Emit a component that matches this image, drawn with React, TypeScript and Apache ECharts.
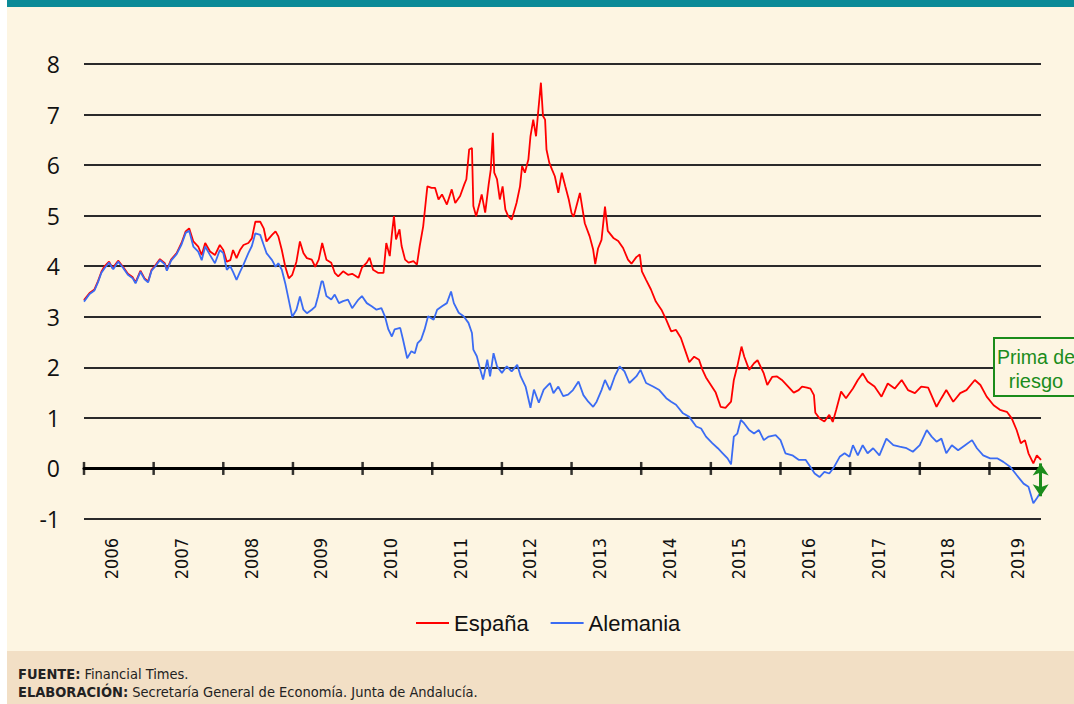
import React, { useEffect, useRef } from "react";
import * as echarts from "echarts";

// Rentabilidad del bono a 10 años (%), [año decimal, valor]
const espana: [number, number][] = [
  [2006.0, 3.33], [2006.08, 3.47], [2006.15, 3.54], [2006.2, 3.7], [2006.25, 3.89], [2006.29, 3.99],
  [2006.36, 4.09], [2006.41, 3.96], [2006.49, 4.11], [2006.56, 3.99], [2006.63, 3.85], [2006.7, 3.78],
  [2006.74, 3.68], [2006.81, 3.91], [2006.87, 3.76], [2006.92, 3.7], [2006.97, 3.93], [2007.02, 4.01],
  [2007.09, 4.14], [2007.16, 4.06], [2007.19, 3.93], [2007.25, 4.13], [2007.33, 4.26], [2007.4, 4.46],
  [2007.46, 4.69], [2007.51, 4.75], [2007.57, 4.49], [2007.64, 4.39], [2007.69, 4.22], [2007.74, 4.46],
  [2007.81, 4.29], [2007.88, 4.22], [2007.95, 4.42], [2008.0, 4.32], [2008.05, 4.09], [2008.1, 4.12],
  [2008.14, 4.32], [2008.19, 4.16], [2008.24, 4.32], [2008.29, 4.42], [2008.36, 4.46], [2008.41, 4.55],
  [2008.46, 4.88], [2008.53, 4.88], [2008.58, 4.75], [2008.62, 4.49], [2008.7, 4.62], [2008.75, 4.69],
  [2008.79, 4.59], [2008.84, 4.32], [2008.89, 3.99], [2008.94, 3.76], [2008.99, 3.83], [2009.05, 4.09],
  [2009.1, 4.49], [2009.15, 4.26], [2009.2, 4.16], [2009.27, 4.13], [2009.32, 3.99], [2009.37, 4.13],
  [2009.42, 4.46], [2009.48, 4.13], [2009.55, 4.07], [2009.6, 3.87], [2009.65, 3.8], [2009.72, 3.9],
  [2009.79, 3.83], [2009.85, 3.85], [2009.94, 3.77], [2009.99, 3.97], [2010.06, 4.07], [2010.1, 4.17],
  [2010.15, 3.93], [2010.22, 3.87], [2010.3, 3.87], [2010.34, 4.46], [2010.39, 4.2], [2010.42, 4.63],
  [2010.45, 4.99], [2010.48, 4.53], [2010.53, 4.73], [2010.56, 4.4], [2010.61, 4.13], [2010.66, 4.07],
  [2010.73, 4.1], [2010.78, 4.03], [2010.82, 4.4], [2010.87, 4.79], [2010.91, 5.32], [2010.93, 5.58],
  [2010.99, 5.55], [2011.04, 5.55], [2011.09, 5.32], [2011.14, 5.42], [2011.21, 5.22], [2011.28, 5.52],
  [2011.33, 5.25], [2011.4, 5.39], [2011.46, 5.62], [2011.49, 5.72], [2011.53, 6.31], [2011.57, 6.34],
  [2011.59, 5.19], [2011.63, 4.99], [2011.68, 5.25], [2011.71, 5.42], [2011.76, 5.06], [2011.81, 5.62],
  [2011.84, 5.91], [2011.87, 6.64], [2011.89, 5.85], [2011.93, 5.72], [2011.97, 5.32], [2012.01, 5.58],
  [2012.05, 5.12], [2012.09, 4.99], [2012.14, 4.92], [2012.17, 5.06], [2012.21, 5.25], [2012.26, 5.58],
  [2012.29, 5.98], [2012.33, 5.85], [2012.38, 6.11], [2012.41, 6.57], [2012.45, 6.9], [2012.49, 6.57],
  [2012.52, 7.04], [2012.56, 7.63], [2012.59, 6.97], [2012.62, 6.9], [2012.64, 6.31], [2012.68, 6.05],
  [2012.72, 5.91], [2012.76, 5.78], [2012.81, 5.45], [2012.86, 5.85], [2012.91, 5.58], [2012.96, 5.32],
  [2013.0, 5.05], [2013.03, 4.98], [2013.12, 5.45], [2013.19, 4.85], [2013.26, 4.59], [2013.31, 4.33],
  [2013.34, 4.04], [2013.38, 4.35], [2013.43, 4.52], [2013.48, 5.18], [2013.52, 4.7], [2013.6, 4.56],
  [2013.67, 4.5], [2013.74, 4.36], [2013.81, 4.13], [2013.86, 4.05], [2013.93, 4.18], [2013.98, 4.23],
  [2014.01, 3.9], [2014.07, 3.73], [2014.14, 3.54], [2014.21, 3.3], [2014.29, 3.14], [2014.36, 2.94],
  [2014.43, 2.71], [2014.5, 2.74], [2014.57, 2.58], [2014.64, 2.3], [2014.69, 2.1], [2014.76, 2.21],
  [2014.83, 2.15], [2014.88, 1.95], [2014.93, 1.8], [2015.0, 1.65], [2015.07, 1.5], [2015.14, 1.22],
  [2015.21, 1.2], [2015.29, 1.32], [2015.33, 1.75], [2015.38, 2.02], [2015.44, 2.41], [2015.48, 2.21],
  [2015.55, 1.95], [2015.62, 2.08], [2015.67, 2.14], [2015.76, 1.88], [2015.81, 1.65], [2015.88, 1.81],
  [2015.95, 1.82], [2016.02, 1.75], [2016.09, 1.65], [2016.19, 1.5], [2016.26, 1.55], [2016.31, 1.62],
  [2016.38, 1.6], [2016.43, 1.58], [2016.48, 1.45], [2016.5, 1.1], [2016.56, 0.99], [2016.63, 0.93],
  [2016.7, 1.06], [2016.75, 0.92], [2016.8, 1.16], [2016.87, 1.52], [2016.94, 1.39], [2017.04, 1.58],
  [2017.11, 1.75], [2017.18, 1.88], [2017.25, 1.72], [2017.35, 1.62], [2017.45, 1.42], [2017.54, 1.68],
  [2017.64, 1.58], [2017.74, 1.75], [2017.83, 1.55], [2017.93, 1.49], [2018.02, 1.62], [2018.12, 1.6],
  [2018.24, 1.22], [2018.31, 1.39], [2018.38, 1.55], [2018.48, 1.32], [2018.58, 1.49], [2018.67, 1.55],
  [2018.79, 1.75], [2018.87, 1.65], [2018.96, 1.42], [2019.06, 1.25], [2019.15, 1.16], [2019.25, 1.12],
  [2019.32, 0.99], [2019.39, 0.76], [2019.45, 0.5], [2019.51, 0.56], [2019.56, 0.3], [2019.63, 0.1],
  [2019.68, 0.26], [2019.74, 0.17],
];

const alemania: [number, number][] = [
  [2006.0, 3.3], [2006.08, 3.45], [2006.15, 3.52], [2006.2, 3.68], [2006.25, 3.87], [2006.3, 3.97],
  [2006.36, 4.07], [2006.42, 3.94], [2006.49, 4.09], [2006.56, 3.97], [2006.63, 3.83], [2006.7, 3.76],
  [2006.74, 3.66], [2006.81, 3.89], [2006.87, 3.74], [2006.92, 3.68], [2006.97, 3.91], [2007.02, 3.99],
  [2007.09, 4.12], [2007.16, 4.04], [2007.19, 3.91], [2007.25, 4.11], [2007.33, 4.24], [2007.4, 4.43],
  [2007.46, 4.66], [2007.51, 4.7], [2007.57, 4.39], [2007.64, 4.29], [2007.69, 4.12], [2007.74, 4.39],
  [2007.81, 4.22], [2007.88, 4.06], [2007.95, 4.32], [2008.0, 4.26], [2008.05, 3.93], [2008.1, 4.0],
  [2008.14, 3.89], [2008.19, 3.73], [2008.24, 3.89], [2008.29, 4.03], [2008.36, 4.26], [2008.41, 4.4],
  [2008.46, 4.65], [2008.53, 4.62], [2008.58, 4.42], [2008.62, 4.26], [2008.7, 4.12], [2008.75, 3.99],
  [2008.79, 4.06], [2008.84, 3.93], [2008.89, 3.66], [2008.94, 3.33], [2008.99, 3.0], [2009.05, 3.14],
  [2009.1, 3.4], [2009.15, 3.14], [2009.2, 3.07], [2009.27, 3.14], [2009.32, 3.2], [2009.36, 3.4],
  [2009.41, 3.7], [2009.43, 3.7], [2009.48, 3.41], [2009.55, 3.34], [2009.6, 3.44], [2009.66, 3.27],
  [2009.72, 3.31], [2009.79, 3.34], [2009.85, 3.17], [2009.94, 3.34], [2009.99, 3.41], [2010.06, 3.27],
  [2010.13, 3.21], [2010.2, 3.14], [2010.27, 3.17], [2010.32, 3.01], [2010.37, 2.75], [2010.42, 2.61],
  [2010.46, 2.75], [2010.54, 2.78], [2010.58, 2.55], [2010.64, 2.18], [2010.7, 2.32], [2010.75, 2.28],
  [2010.79, 2.48], [2010.84, 2.55], [2010.89, 2.75], [2010.94, 3.01], [2011.02, 2.94], [2011.07, 3.14],
  [2011.14, 3.21], [2011.21, 3.27], [2011.27, 3.5], [2011.31, 3.27], [2011.38, 3.08], [2011.45, 3.01],
  [2011.52, 2.88], [2011.57, 2.68], [2011.59, 2.35], [2011.64, 2.22], [2011.69, 1.95], [2011.73, 1.76],
  [2011.79, 2.15], [2011.83, 1.82], [2011.88, 2.28], [2011.93, 2.02], [2012.0, 1.89], [2012.07, 2.02],
  [2012.14, 1.92], [2012.22, 2.05], [2012.27, 1.82], [2012.34, 1.62], [2012.41, 1.2], [2012.46, 1.56],
  [2012.53, 1.3], [2012.6, 1.56], [2012.69, 1.69], [2012.74, 1.49], [2012.81, 1.62], [2012.88, 1.43],
  [2012.95, 1.46], [2013.02, 1.55], [2013.1, 1.72], [2013.17, 1.45], [2013.24, 1.32], [2013.31, 1.22],
  [2013.36, 1.32], [2013.43, 1.55], [2013.48, 1.75], [2013.55, 1.55], [2013.62, 1.82], [2013.69, 2.02],
  [2013.76, 1.92], [2013.83, 1.69], [2013.93, 1.82], [2013.99, 1.95], [2014.07, 1.69], [2014.17, 1.62],
  [2014.26, 1.55], [2014.36, 1.39], [2014.43, 1.32], [2014.5, 1.26], [2014.6, 1.09], [2014.69, 1.02],
  [2014.79, 0.83], [2014.86, 0.79], [2014.93, 0.63], [2015.02, 0.5], [2015.1, 0.4], [2015.17, 0.3],
  [2015.24, 0.2], [2015.29, 0.08], [2015.33, 0.63], [2015.38, 0.69], [2015.43, 0.96], [2015.48, 0.89],
  [2015.55, 0.76], [2015.62, 0.69], [2015.69, 0.76], [2015.76, 0.56], [2015.83, 0.63], [2015.93, 0.66],
  [2016.0, 0.56], [2016.07, 0.3], [2016.17, 0.26], [2016.26, 0.17], [2016.36, 0.17], [2016.43, 0.03],
  [2016.49, -0.1], [2016.56, -0.17], [2016.63, -0.07], [2016.7, -0.1], [2016.77, 0.03], [2016.85, 0.23],
  [2016.92, 0.3], [2016.99, 0.23], [2017.04, 0.46], [2017.11, 0.26], [2017.18, 0.46], [2017.25, 0.3],
  [2017.33, 0.4], [2017.42, 0.26], [2017.52, 0.59], [2017.62, 0.46], [2017.71, 0.43], [2017.81, 0.4],
  [2017.9, 0.33], [2018.0, 0.46], [2018.1, 0.76], [2018.17, 0.63], [2018.24, 0.53], [2018.31, 0.59],
  [2018.38, 0.3], [2018.46, 0.46], [2018.55, 0.36], [2018.65, 0.46], [2018.75, 0.56], [2018.82, 0.4],
  [2018.91, 0.26], [2019.01, 0.2], [2019.11, 0.2], [2019.2, 0.13], [2019.3, 0.03], [2019.39, -0.13],
  [2019.49, -0.3], [2019.56, -0.36], [2019.63, -0.69], [2019.68, -0.59], [2019.74, -0.46],
];

const years = [2006, 2007, 2008, 2009, 2010, 2011, 2012, 2013, 2014, 2015, 2016, 2017, 2018, 2019];
const xStart = 2006;
const xEnd = 2019.74;
const yMin = -1;
const yMax = 8;
// Prima de riesgo al final del periodo (España vs Alemania)
const primaTop = 0.1;
const primaBottom = -0.55;

const CREAM = "#fdf5e2";
const TEAL = "#0b8a97";
const FOOT = "#f2dfc5";
const GREEN = "#1b8c1b";
const NARROW = '"Liberation Sans Narrow", "DejaVu Sans Condensed", "Liberation Sans", sans-serif';

export default function App() {
  const ref = useRef<HTMLDivElement>(null);
  useEffect(() => {
    if (!ref.current) return;
    const chart = echarts.init(ref.current, null, { renderer: "svg" });
    chart.setOption({
      animation: false,
      backgroundColor: CREAM,
      grid: { left: 84, right: 33, top: 64, bottom: 185 },
      legend: {
        data: ["España", "Alemania"],
        left: 411,
        top: 607,
        icon: "rect",
        itemWidth: 33,
        itemHeight: 2,
        itemGap: 22,
        textStyle: { fontSize: 22, color: "#111", fontFamily: '"Liberation Sans", sans-serif' },
      },
      xAxis: {
        type: "value",
        min: xStart,
        max: xEnd,
        axisLine: { onZero: true, lineStyle: { color: "#000", width: 3 } },
        axisTick: { show: false },
        splitLine: { show: false },
        axisLabel: {
          customValues: years.map((y) => y + 0.4),
          formatter: (v: number) => String(Math.floor(v)),
          rotate: 90,
          margin: 19,
          fontSize: 18,
          color: "#111",
          fontFamily: NARROW,
        },
      },
      yAxis: {
        type: "value",
        min: yMin,
        max: yMax,
        interval: 1,
        axisLine: { show: false },
        axisTick: { show: false },
        splitLine: { lineStyle: { color: "#2a2a2a", width: 1.8 } },
        axisLabel: { fontSize: 23, color: "#111", margin: 24, fontFamily: '"Open Sans", sans-serif' },
      },
      series: [
        {
          name: "España",
          type: "line",
          data: espana,
          showSymbol: false,
          lineStyle: { color: "#ff0000", width: 1.8 },
          itemStyle: { color: "#ff0000" },
          z: 3,
        },
        {
          name: "Alemania",
          type: "line",
          data: alemania,
          showSymbol: false,
          lineStyle: { color: "#3b6cf3", width: 1.8 },
          itemStyle: { color: "#3b6cf3" },
          z: 4,
        },
        {
          name: "ticks",
          type: "scatter",
          data: years.map((y) => [y, 0]),
          symbol: "rect",
          symbolSize: [2.5, 13],
          itemStyle: { color: "#000" },
          silent: true,
          z: 5,
        },
        {
          name: "prima",
          type: "line",
          data: [],
          silent: true,
          z: 6,
          markLine: {
            silent: true,
            symbol: ["arrow", "arrow"],
            symbolSize: [12, 12],
            label: { show: false },
            lineStyle: { color: GREEN, width: 3, type: "solid" },
            data: [[{ coord: [xEnd - 0.005, primaTop] }, { coord: [xEnd - 0.005, primaBottom] }]],
          },
        },
      ],
      graphic: [
        { type: "rect", z: 100, shape: { x: 0, y: 0, width: 7, height: 704 }, style: { fill: "#ffffff" } },
        { type: "rect", z: 100, shape: { x: 7, y: 0, width: 1067, height: 7 }, style: { fill: TEAL } },
        { type: "rect", z: 100, shape: { x: 7, y: 651, width: 1067, height: 53 }, style: { fill: FOOT } },
        {
          type: "text",
          z: 101,
          x: 18,
          y: 674,
          style: {
            text: "{b|FUENTE:} Financial Times.",
            fontSize: 14.5,
            fontFamily: NARROW,
            fill: "#222",
            verticalAlign: "middle",
            rich: { b: { fontWeight: "bold", fontSize: 14.5, fontFamily: NARROW, fill: "#222" } },
          },
        },
        {
          type: "text",
          z: 101,
          x: 18,
          y: 692,
          style: {
            text: "{b|ELABORACIÓN:} Secretaría General de Economía. Junta de Andalucía.",
            fontSize: 14.5,
            fontFamily: NARROW,
            fill: "#222",
            verticalAlign: "middle",
            rich: { b: { fontWeight: "bold", fontSize: 14.5, fontFamily: NARROW, fill: "#222" } },
          },
        },
        {
          type: "rect",
          z: 100,
          shape: { x: 994, y: 338, width: 100, height: 58 },
          style: { fill: CREAM, stroke: GREEN, lineWidth: 2 },
        },
        {
          type: "text",
          z: 101,
          x: 997,
          y: 357,
          style: { text: "Prima de", fontSize: 19.5, fill: GREEN, fontFamily: '"Liberation Sans", sans-serif', verticalAlign: "middle" },
        },
        {
          type: "text",
          z: 101,
          x: 1036,
          y: 381,
          style: { text: "riesgo", fontSize: 20, fill: GREEN, fontFamily: '"Liberation Sans", sans-serif', align: "center", verticalAlign: "middle" },
        },
      ],
    });
    return () => chart.dispose();
  }, []);
  return <div ref={ref} style={{ position: "fixed", left: 0, top: 0, width: 1074, height: 704 }} />;
}
